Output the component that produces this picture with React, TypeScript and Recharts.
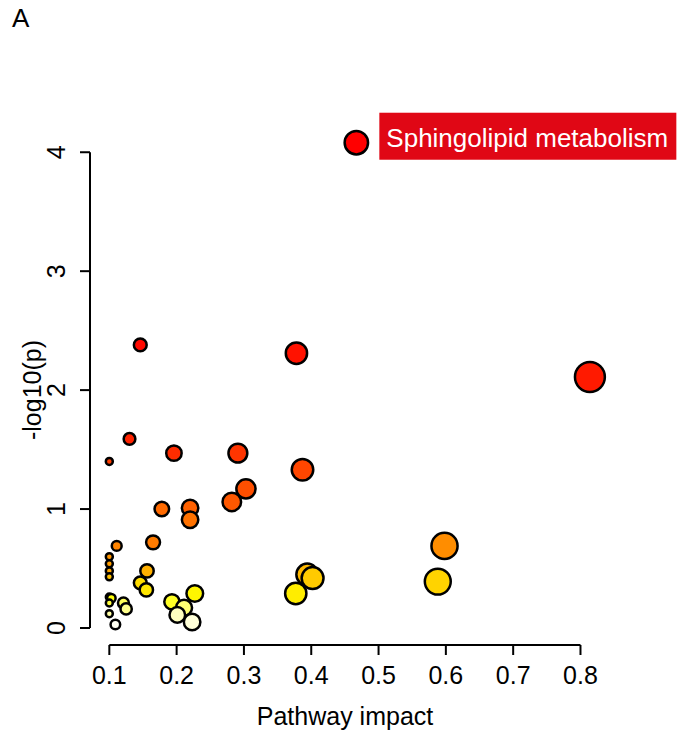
import { ScatterChart, Scatter, XAxis, YAxis, ReferenceLine } from "recharts";

// pathway impact (x) and -log10(p) (y)
const impact = [
  0.467, 0.814, 0.378, 0.146, 0.387, 0.13, 0.196, 0.291, 0.1, 0.303,
  0.282, 0.22, 0.22, 0.178, 0.165, 0.111, 0.598, 0.588, 0.1, 0.1,
  0.1, 0.1, 0.156, 0.146, 0.155, 0.394, 0.402, 0.377, 0.227, 0.193,
  0.211, 0.201, 0.223, 0.1, 0.103, 0.1, 0.121, 0.125, 0.1, 0.109,
];
const negLogP = [
  4.08, 2.11, 2.31, 2.38, 1.33, 1.59, 1.47, 1.47, 1.4, 1.17,
  1.06, 1.01, 0.91, 1.0, 0.72, 0.69, 0.69, 0.39, 0.6, 0.54,
  0.48, 0.43, 0.48, 0.38, 0.32, 0.45, 0.42, 0.29, 0.29, 0.22,
  0.17, 0.11, 0.05, 0.26, 0.25, 0.21, 0.21, 0.16, 0.12, 0.03,
];
const labelled = "Sphingolipid metabolism";
const xTicks = [0.1, 0.2, 0.3, 0.4, 0.5, 0.6, 0.7, 0.8];
const yTicks = [0, 1, 2, 3, 4];

const xDomain = [0.0713, 0.829];
const yDomain = [-0.143, 4.187];
const font = '"Liberation Sans", Arial, Helvetica, sans-serif';

function hsv(h: number, s: number, v: number) {
  const f = (n: number) => {
    const k = (n + h * 6) % 6;
    return v - v * s * Math.max(0, Math.min(k, 4 - k, 1));
  };
  const hex = (c: number) => Math.round(c * 255).toString(16).padStart(2, "0");
  return "#" + hex(f(5)) + hex(f(3)) + hex(f(1));
}

// R's heat.colors(n)
function heatColors(n: number) {
  const j = Math.floor(n / 4);
  const i = n - j;
  const out: string[] = [];
  for (let k = 0; k < i; k++) out.push(hsv(((1 / 6) * k) / (i - 1), 1, 1));
  for (let k = 0; k < j; k++) {
    const s0 = 1 - 1 / (2 * j), s1 = 1 / (2 * j);
    out.push(hsv(1 / 6, j > 1 ? s0 + ((s1 - s0) * k) / (j - 1) : s0, 1));
  }
  return out;
}

const pal = heatColors(impact.length);
const data = impact
  .map((x, i) => ({ x, y: negLogP[i], name: i === 0 ? labelled : "" }))
  .sort((a, b) => b.y - a.y)
  .map((d, r) => ({ ...d, fill: pal[r] }));

const Bubble = (p: any) => {
  const { cx, cy, payload } = p;
  const r = 3.5 + 11.5 * Math.sqrt(Math.max(0, payload.x - 0.1) / 0.72);
  return (
    <g>
      <circle cx={cx} cy={cy} r={r} fill={payload.fill} stroke="#000" strokeWidth={2.5} />
      {payload.name && (
        <g>
          <rect x={cx + 23} y={cy - 30} width={297} height={47} fill="#e00715" />
          <text x={cx + 30} y={cy + 4} fill="#fff" fontSize={26} fontFamily={font}>
            {payload.name}
          </text>
        </g>
      )}
    </g>
  );
};

const XTick = ({ x, y, payload }: any) => (
  <g>
    <line x1={x} x2={x} y1={y} y2={y + 10} stroke="#000" strokeWidth={2} />
    <text x={x} y={y + 39} textAnchor="middle" fontSize={25} fontFamily={font} fill="#000">
      {payload.value}
    </text>
  </g>
);

const YTick = ({ x, y, payload }: any) => (
  <g>
    <line x1={x} x2={x - 10} y1={y} y2={y} stroke="#000" strokeWidth={2} />
    <text x={x - 25} y={y} transform={`rotate(-90, ${x - 25}, ${y})`} textAnchor="middle"
      fontSize={25} fontFamily={font} fill="#000">
      {payload.value}
    </text>
  </g>
);

export default function App() {
  return (
    <div style={{ position: "fixed", left: 0, top: 0, width: 678, height: 730, background: "#fff" }}>
      <ScatterChart width={678} height={730} margin={{ top: 130, right: 78, left: 30, bottom: 25 }}>
        <XAxis type="number" dataKey="x" domain={xDomain} ticks={xTicks} axisLine={false}
          tickLine={false} tickSize={0} tickMargin={0} height={60} tick={<XTick />} interval={0} />
        <YAxis type="number" dataKey="y" domain={yDomain} ticks={yTicks} axisLine={false}
          tickLine={false} tickSize={0} tickMargin={0} width={60} tick={<YTick />} interval={0} />
        <ReferenceLine segment={[{ x: 0.1, y: yDomain[0] }, { x: 0.8, y: yDomain[0] }]}
          stroke="#000" strokeWidth={2} ifOverflow="visible" />
        <ReferenceLine segment={[{ x: xDomain[0], y: 0 }, { x: xDomain[0], y: 4 }]}
          stroke="#000" strokeWidth={2} ifOverflow="visible" />
        <Scatter data={data} shape={<Bubble />} isAnimationActive={false} />
        <text x={12} y={27} fontSize={26} fontFamily={font} fill="#000">A</text>
        <text x={345} y={725} textAnchor="middle" fontSize={25} fontFamily={font} fill="#000">
          Pathway impact
        </text>
        <text x={41} y={390} transform="rotate(-90, 41, 390)" textAnchor="middle" fontSize={25}
          fontFamily={font} fill="#000">
          -log10(p)
        </text>
      </ScatterChart>
    </div>
  );
}
